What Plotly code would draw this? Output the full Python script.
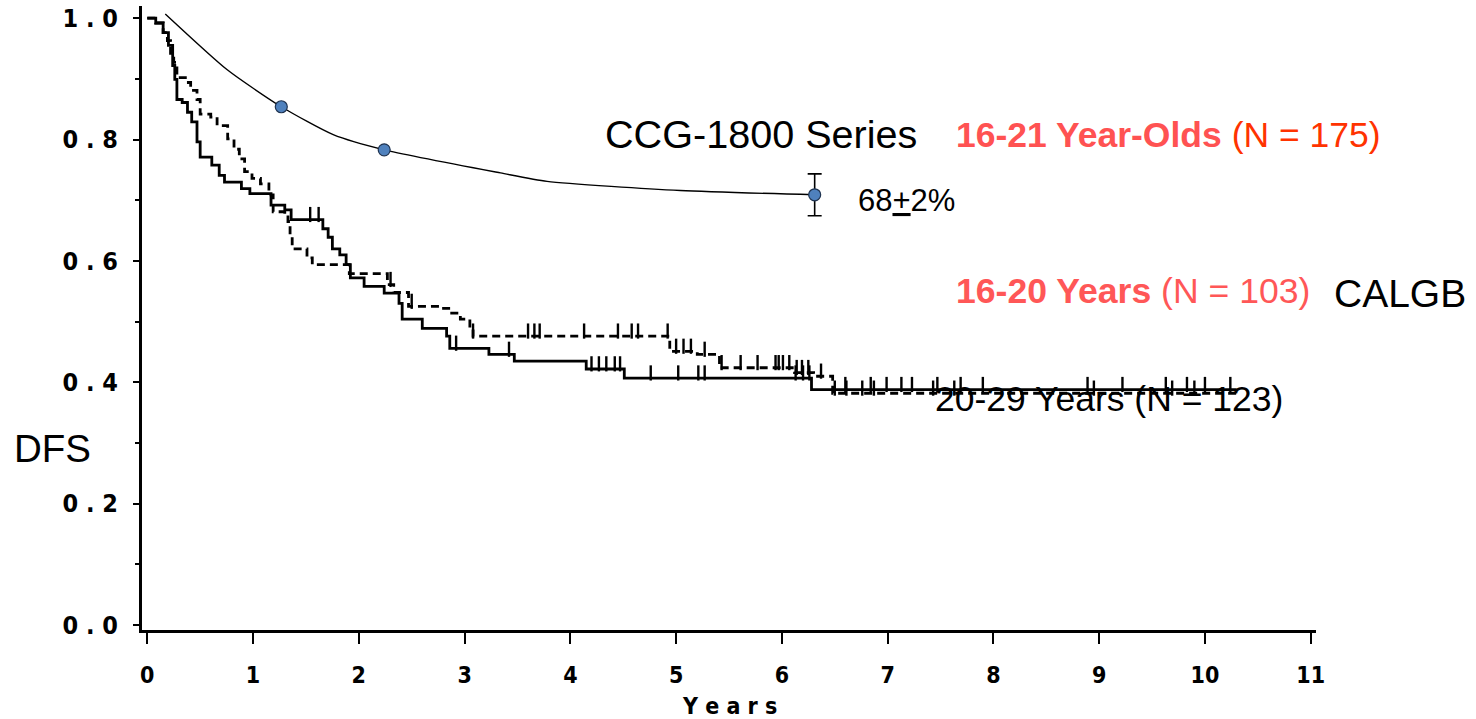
import numpy as np
import plotly.graph_objects as go

# ---------------- data ----------------
# CALGB 16-20 years (solid step curve)
solid_t = [0, 0.08, 0.15, 0.20, 0.24, 0.26, 0.28, 0.33, 0.38, 0.42, 0.47, 0.50,
           0.61, 0.68, 0.73, 0.89, 0.97, 1.17, 1.30, 1.36, 1.66, 1.71, 1.75, 1.82,
           1.88, 1.92, 2.05, 2.24, 2.38, 2.41, 2.60, 2.83, 2.86, 3.23, 3.47, 4.15,
           4.51, 6.28]
solid_v = [1.0, 0.992, 0.976, 0.955, 0.922, 0.899, 0.866, 0.861, 0.845, 0.829, 0.796, 0.771,
           0.758, 0.741, 0.730, 0.719, 0.711, 0.692, 0.684, 0.668, 0.653, 0.639, 0.620, 0.610,
           0.594, 0.572, 0.558, 0.547, 0.530, 0.504, 0.489, 0.476, 0.456, 0.446, 0.435, 0.422,
           0.407, 0.388]
solid_end = 10.30
solid_cens = [1.54, 1.62, 2.92, 3.42, 4.20, 4.27, 4.34, 4.42, 4.47, 4.76, 5.02, 5.21,
              5.27, 6.13, 6.20, 6.26, 6.60, 6.84, 6.99, 7.13, 7.23, 7.47, 7.69, 7.90,
              8.89, 9.22, 9.63, 9.83, 10.00, 10.24]

# CALGB 20-29 years (dashed step curve)
dashed_t = [0, 0.08, 0.15, 0.19, 0.22, 0.25, 0.28, 0.36, 0.41, 0.47, 0.50, 0.60,
            0.66, 0.76, 0.82, 0.87, 0.92, 0.99, 1.07, 1.15, 1.19, 1.30, 1.33, 1.35,
            1.37, 1.51, 1.56, 1.91, 2.27, 2.33, 2.47, 2.77, 2.85, 2.96, 3.05, 3.08,
            4.94, 5.20, 5.41, 6.12, 6.30, 6.48]
dashed_v = [1.0, 0.992, 0.976, 0.963, 0.938, 0.927, 0.902, 0.894, 0.881, 0.866, 0.842, 0.837,
            0.823, 0.801, 0.784, 0.768, 0.747, 0.736, 0.727, 0.709, 0.681, 0.676, 0.665, 0.643,
            0.620, 0.605, 0.594, 0.579, 0.561, 0.548, 0.525, 0.522, 0.514, 0.504, 0.489, 0.476,
            0.451, 0.446, 0.424, 0.416, 0.410, 0.382]
dashed_end = 10.30
dashed_cens = [2.30, 2.50, 3.08, 3.60, 3.66, 3.71, 4.13, 4.45, 4.58, 4.64, 4.92, 5.00,
               5.07, 5.14, 5.27, 5.43, 5.61, 5.77, 5.94, 5.97, 6.01, 6.07, 6.14, 6.19,
               6.25, 6.37, 6.50, 6.61, 6.76, 6.87, 7.43, 7.63, 8.95, 9.69, 9.90]

# CCG-1800 series curve and its three marked points
ccg_t = [0.17, 0.756, 1.267, 1.758, 2.24, 3.34, 3.78, 5.04, 6.31]
ccg_v = [1.007, 0.915, 0.854, 0.808, 0.783, 0.745, 0.731, 0.716, 0.709]
ccg_pt_t = [1.267, 2.24]
ccg_pt_v = [0.854, 0.783]
ccg_last_t = [6.31]
ccg_last_v = [0.709]
ccg_last_err = [0.0345]

y_ticks = [0.0, 0.2, 0.4, 0.6, 0.8, 1.0]
y_ticktext = ["<b>0 . 0</b>", "<b>0 . 2</b>", "<b>0 . 4</b>", "<b>0 . 6</b>",
              "<b>0 . 8</b>", "<b>1 . 0</b>"]
x_ticks = list(range(0, 12))
x_ticktext = ["<b>%d</b>" % v for v in x_ticks]

# ---------------- figure ----------------
W, H = 1476, 719
L, R, T, B = 142, 1316, 4, 630   # plot area in pixels


def pxx(x):
    return (x - L) / (R - L)


def pxy(y):
    return (B - y) / (B - T)


def step_level(times, levels, c):
    i = int(np.searchsorted(np.array(times), c, side="right")) - 1
    return levels[i]


fig = go.Figure()

for times, levels, end, dash in [(solid_t, solid_v, solid_end, "solid"),
                                 (dashed_t, dashed_v, dashed_end, "8px,5px")]:
    fig.add_trace(go.Scatter(
        x=times + [end], y=levels + [levels[-1]], mode="lines",
        line=dict(color="black", width=2.8, shape="hv", dash=dash),
        hoverinfo="skip", showlegend=False))

for times, levels, cens in [(solid_t, solid_v, solid_cens),
                            (dashed_t, dashed_v, dashed_cens)]:
    cy = [step_level(times, levels, c) for c in cens]
    fig.add_trace(go.Scatter(
        x=cens, y=cy, mode="markers",
        marker=dict(size=1, color="black"),
        error_y=dict(type="data", symmetric=False,
                     array=[0.021] * len(cens), arrayminus=[0.004] * len(cens),
                     width=0, thickness=2.4, color="black"),
        hoverinfo="skip", showlegend=False))

fig.add_trace(go.Scatter(
    x=ccg_t, y=ccg_v, mode="lines",
    line=dict(color="black", width=1.4, shape="spline", smoothing=0.6),
    hoverinfo="skip", showlegend=False))

fig.add_trace(go.Scatter(
    x=ccg_pt_t, y=ccg_pt_v, mode="markers",
    marker=dict(size=12, color="#4F81BD", line=dict(color="#1F3350", width=1.2)),
    hoverinfo="skip", showlegend=False))

fig.add_trace(go.Scatter(
    x=ccg_last_t, y=ccg_last_v, mode="markers",
    marker=dict(size=12, color="#4F81BD", line=dict(color="#1F3350", width=1.2)),
    error_y=dict(type="data", array=ccg_last_err, width=7, thickness=1.6, color="black"),
    hoverinfo="skip", showlegend=False))

sans = "Liberation Sans, Arial, sans-serif"
cond = "DejaVu Sans Condensed, DejaVu Sans, sans-serif"
ann = []


def add_text(text, x, y, size, color="black", xanchor="left", family=sans):
    ann.append(dict(text=text, x=pxx(x), y=pxy(y), xref="paper", yref="paper",
                    xanchor=xanchor, yanchor="middle", showarrow=False,
                    font=dict(family=family, size=size, color=color)))


add_text("CCG-1800 Series", 603, 132, 39.6)
add_text("<b>16-21 Year-Olds</b> <span style='color:#FF3300'>(N = 175)</span>",
         954, 133, 35.5, color="#FF5252")
add_text("68<u>+</u>2%", 856, 199, 31)
add_text("<b>16-20 Years</b> (N = 103)", 954, 290, 35.6, color="#FF5757")
add_text("CALGB", 1332, 292, 39)
add_text("20-29 Years (N = 123)", 933, 398, 35.5)
add_text("DFS", 12, 448, 38.5)
add_text("<b>Y e a r s</b>", 730, 706, 23, xanchor="center", family=cond)

fig.update_layout(
    width=W, height=H,
    margin=dict(l=L, r=W - R, t=T, b=H - B, pad=0),
    paper_bgcolor="white", plot_bgcolor="white",
    annotations=ann,
    xaxis=dict(range=[-0.05, 11.05], tickvals=x_ticks, ticktext=x_ticktext,
               showline=True, linecolor="black", linewidth=2.5,
               ticks="outside", ticklen=11, tickwidth=2, tickcolor="black",
               showgrid=False, zeroline=False, ticklabelstandoff=12,
               tickfont=dict(family=cond, size=23, color="black")),
    yaxis=dict(range=[-0.008, 1.02], tickvals=y_ticks, ticktext=y_ticktext,
               showline=True, linecolor="black", linewidth=3,
               ticks="outside", ticklen=6, tickwidth=2, tickcolor="black",
               showgrid=False, zeroline=False, ticklabelstandoff=10,
               minor=dict(dtick=0.1, tick0=0, ticks="outside", ticklen=4,
                          tickwidth=2, tickcolor="black"),
               tickfont=dict(family=cond, size=25, color="black")),
)

fig.write_html("out.html")
